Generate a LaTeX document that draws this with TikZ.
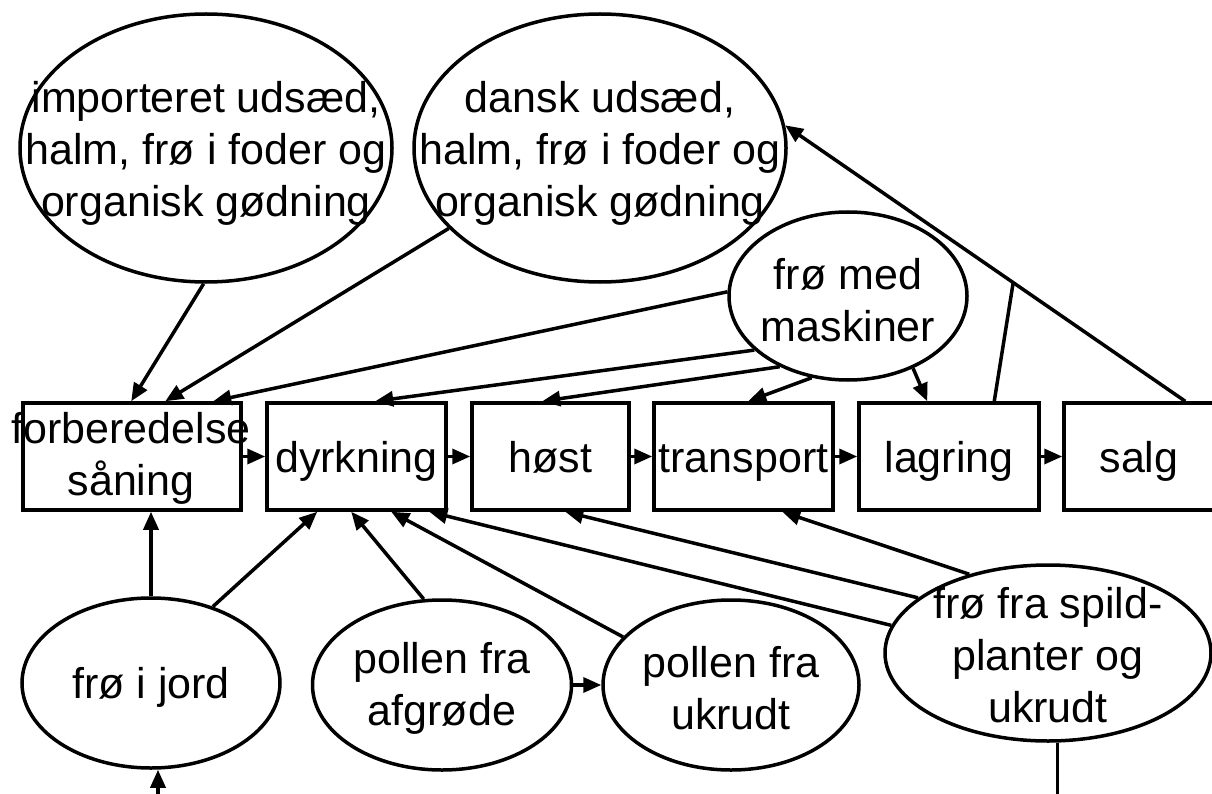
\documentclass[tikz,border=0pt]{standalone}
\usepackage{fontspec}
\setmainfont{Liberation Sans}
\usetikzlibrary{calc,shapes.geometric,arrows.meta}

\begin{document}
\begin{tikzpicture}[x=1pt,y=-1pt,line width=3.5pt,
  box/.style={draw,rectangle,minimum height=107,inner sep=0pt},
  oval/.style={draw,ellipse,inner sep=0pt},
  txt/.style={font=\fontsize{43}{52}\selectfont,align=center,inner sep=0pt},
  oneline/.style={txt,text height=40pt,text depth=9pt},
  arr/.style={-{Triangle[length=18pt,width=15pt]}}]
% frame
\useasboundingbox (0,0) rectangle (1212,794);
\clip (0,0) rectangle (1212,794);
% sources at the top
\node[oval,minimum width=372,minimum height=268] (imp) at (206,148) {};
\node[oval,minimum width=372,minimum height=268] (dan) at (600,148) {};
\node[oval,minimum width=238,minimum height=168] (mas) at (848,296) {};
% chain of boxes
\node[box,minimum width=218] (frb) at (132,456.5) {};
\node[box,minimum width=179] (dyr) at (356.5,456.5) {};
\node[box,minimum width=157] (hos) at (550.5,456.5) {};
\node[box,minimum width=179] (tra) at (743.5,456.5) {};
\node[box,minimum width=180] (lag) at (949,456.5) {};
\node[box,minimum width=150] (sal) at (1139,456.5) {};
% sources at the bottom
\node[oval,minimum width=258,minimum height=170] (jord) at (151,683) {};
\node[oval,minimum width=259,minimum height=170] (paf) at (442,685) {};
\node[oval,minimum width=256,minimum height=170] (puk) at (731,685) {};
\node[oval,minimum width=326,minimum height=176] (spild) at (1048,653) {};
% texts
\node[txt] (imp-t) at (206,153) {importeret udsæd,\\halm, frø i foder og\\organisk gødning};
\node[txt] (dan-t) at (600,153) {dansk udsæd,\\halm, frø i foder og\\organisk gødning};
\node[txt] (mas-t) at (848,300) {frø med\\maskiner};
\node[txt] (frb-t) at (131,458) {forberedelse\\såning};
\node[oneline] (dyr-t) at (dyr) {dyrkning};
\node[oneline] (hos-t) at (hos) {høst};
\node[oneline] (tra-t) at (tra) {transport};
\node[oneline] (lag-t) at (lag) {lagring};
\node[oneline] (sal-t) at (sal) {salg};
\node[oneline] (jord-t) at (jord) {frø i jord};
\node[txt] (paf-t) at (442,688) {pollen fra\\afgrøde};
\node[txt] (puk-t) at (731,688) {pollen fra\\ukrudt};
\node[txt] (spild-t) at (1048,655) {frø fra spild-\\planter og\\ukrudt};
% arrows from the top
\draw[arr] (imp.269) -- ($(frb.north west)+(110,0)$);
\draw[arr] (dan.208.5) -- ($(frb.north west)+(144,0)$);
\draw[arr] (mas.178.6) -- ($(frb.north west)+(192,0)$);
\draw[arr] (mas.210.2) -- ($(dyr.north west)+(110,0)$);
\draw[arr] (mas.226.9) -- ($(hos.north west)+(72,0)$);
\draw[arr] (mas.246.8) -- ($(tra.north west)+(96,0)$);
\draw[arr] (mas.312.5) -- ($(lag.north west)+(70,0)$);
% back to danish seed
\coordinate (s1) at ($(sal.north west)+(123,0)$);
\draw[arr] (s1) -- (dan.7);
\draw ($(lag.north west)+(137,0)$) -- ($(s1)!0.43!(dan.7)$);
% chain
\draw[arr] (frb) -- (dyr);
\draw[arr] (dyr) -- (hos);
\draw[arr] (hos) -- (tra);
\draw[arr] (tra) -- (lag);
\draw[arr] (lag) -- (sal);
% arrows from the bottom
\draw[arr] (jord.north) -- (jord.north |- frb.south);
\draw[arr] (jord.51.8) -- ($(dyr.south west)+(52,0)$);
\draw[arr] (paf.102) -- ($(dyr.south west)+(86,0)$);
\draw[arr] (puk.156.6) -- ($(dyr.south west)+(126,0)$);
\draw[arr] (spild.170.8) -- ($(dyr.south west)+(164,0)$);
\draw[arr] (spild.157.5) -- ($(hos.south west)+(95,0)$);
\draw[arr] (spild.135) -- ($(tra.south west)+(130,0)$);
\draw[arr] (paf) -- (puk);
% cut-off ends
\coordinate (jin) at (158,800);
\draw[arr] (jin) -- (jin |- jord.south);
\draw (spild.276) -- ++(0,60);
\end{tikzpicture}
\end{document}
